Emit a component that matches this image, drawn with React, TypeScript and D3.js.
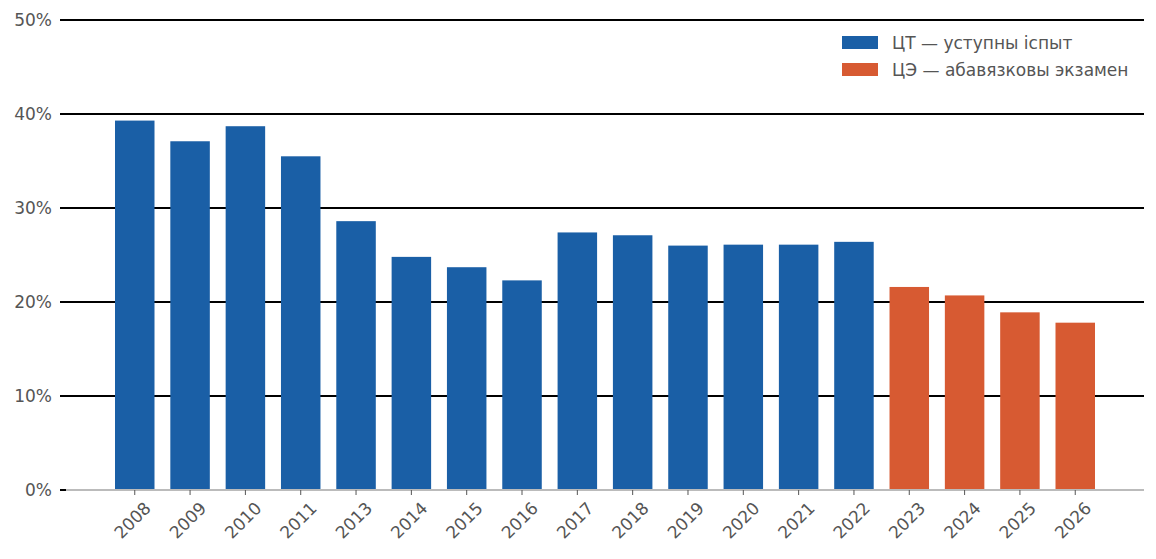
import * as d3 from "d3"

const years = [
  "2008", "2009", "2010", "2011", "2013", "2014", "2015", "2016", "2017",
  "2018", "2019", "2020", "2021", "2022", "2023", "2024", "2025", "2026",
]
const shares = [
  39.3, 37.1, 38.7, 35.5, 28.6, 24.8, 23.7, 22.3, 27.4,
  27.1, 26.0, 26.1, 26.1, 26.4, 21.6, 20.7, 18.9, 17.8,
]
// ЦТ until 2022, ЦЭ from 2023
const examType = [
  "ct", "ct", "ct", "ct", "ct", "ct", "ct", "ct", "ct",
  "ct", "ct", "ct", "ct", "ct", "ce", "ce", "ce", "ce",
]
const yTicks = [0, 10, 20, 30, 40, 50]
const legendLabels = ["ЦТ — уступны іспыт", "ЦЭ — абавязковы экзамен"]

const colors: Record<string, string> = { ct: "#1a5fa6", ce: "#d75a32" }
const legendKeys = ["ct", "ce"]

const W = 1156
const H = 559
const font = "DejaVu Sans, sans-serif"
const textColor = "#555555"

export default function App() {
  const left = 66
  const right = 1144
  const top = 20
  const bottom = 490

  const x = d3
    .scaleBand<string>()
    .domain(years)
    .range([115, 1095])
    .paddingInner(0.286)
    .paddingOuter(0)
  const y = d3.scaleLinear().domain([0, 50]).range([bottom, top])

  return (
    <svg
      width={W}
      height={H}
      style={{ position: "absolute", left: 0, top: 0, background: "#fff" }}
      fontFamily={font}
    >
      {/* grid lines and y ticks */}
      {yTicks.map((t) => (
        <g key={t}>
          {t > 0 && (
            <line
              x1={left}
              x2={right}
              y1={y(t)}
              y2={y(t)}
              stroke="#000"
              strokeWidth={1.3}
              shapeRendering="crispEdges"
            />
          )}
          <line
            x1={60}
            x2={66}
            y1={y(t)}
            y2={y(t)}
            stroke="#000"
            strokeWidth={1.3}
            shapeRendering="crispEdges"
          />
          <text
            x={52}
            y={y(t)}
            textAnchor="end"
            dominantBaseline="central"
            fontSize={17}
            fill={textColor}
          >
            {t}%
          </text>
        </g>
      ))}

      {/* bars */}
      {years.map((yr, i) => (
        <rect
          key={yr}
          x={x(yr)}
          y={y(shares[i])}
          width={x.bandwidth()}
          height={bottom - y(shares[i])}
          fill={colors[examType[i]]}
        />
      ))}

      {/* baseline */}
      <line
        x1={left}
        x2={right}
        y1={bottom}
        y2={bottom}
        stroke="#bbbbbb"
        strokeWidth={1.5}
        shapeRendering="crispEdges"
      />

      {/* x ticks and labels */}
      {years.map((yr) => {
        const cx = x(yr)! + x.bandwidth() / 2
        return (
          <g key={yr}>
            <line x1={cx} x2={cx} y1={bottom} y2={bottom + 5} stroke="#555" strokeWidth={1} />
            <text
              transform={`translate(${cx + 13},${bottom + 15}) rotate(-45)`}
              textAnchor="end"
              dominantBaseline="central"
              fontSize={17}
              fill={textColor}
            >
              {yr}
            </text>
          </g>
        )
      })}

      {/* legend */}
      {legendKeys.map((k, i) => (
        <g key={k} transform={`translate(842,${36 + i * 27})`}>
          <rect width={36} height={13} fill={colors[k]} />
          <text x={50} y={7} dominantBaseline="central" fontSize={17} fill={textColor}>
            {legendLabels[i]}
          </text>
        </g>
      ))}
    </svg>
  )
}
